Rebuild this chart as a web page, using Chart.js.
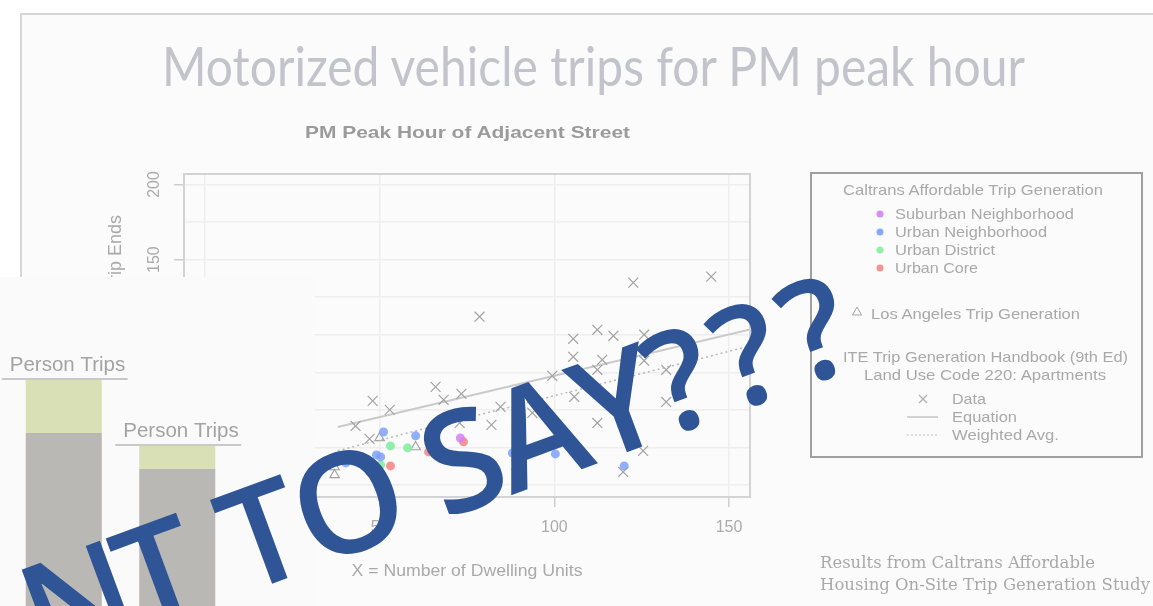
<!DOCTYPE html>
<html><head><meta charset="utf-8">
<script src="https://cdn.jsdelivr.net/npm/chart.js@4.4.1/dist/chart.umd.min.js"></script>
<style>
html,body{margin:0;padding:0;width:1153px;height:606px;overflow:hidden;background:#fff;}
#frame{position:absolute;left:20px;top:13px;width:1200px;height:700px;border:2px solid #d6d6d6;background:#fbfbfb;box-sizing:border-box;}
#main{position:absolute;left:0;top:0;width:1153px;height:606px;}
#txt{position:absolute;left:0;top:0;}
#ov{position:absolute;left:0;top:277px;width:315px;height:329px;background:#fafafa;overflow:hidden;}
#ovc{position:absolute;left:0;top:0;width:315px;height:400px;}
#blue{position:absolute;left:0;top:0;}
svg text{font-family:"Liberation Sans",Arial,sans-serif;fill:#a9a9a9;}
</style></head><body>
<div id="frame"></div>
<canvas id="main" width="1153" height="606"></canvas>
<svg id="txt" width="1153" height="606">
  <text x="162" y="86" font-family="Lato" font-size="54" textLength="863" lengthAdjust="spacingAndGlyphs" style="font-family:Lato;fill:#c3c3cb">Motorized vehicle trips for PM peak hour</text>
  <text x="305" y="138" font-size="17" font-weight="bold" textLength="325" lengthAdjust="spacingAndGlyphs" style="fill:#9b9b9b">PM Peak Hour of Adjacent Street</text>
  <text x="467" y="576" font-size="17" text-anchor="middle" textLength="231" lengthAdjust="spacingAndGlyphs">X = Number of Dwelling Units</text>
  <text x="121" y="215" font-size="18" text-anchor="end" transform="rotate(-90 121 215)">T = Average Vehicle Trip Ends</text>
  <rect x="811" y="173" width="331" height="284" fill="none" stroke="#a0a0a0" stroke-width="2"/>
  <text x="843" y="195" font-size="15" textLength="260" lengthAdjust="spacingAndGlyphs">Caltrans Affordable Trip Generation</text>
  <circle cx="880" cy="214" r="3.5" fill="#d98cf6"/>
  <circle cx="880" cy="232" r="3.5" fill="#88a9f8"/>
  <circle cx="880" cy="250" r="3.5" fill="#90f0a8"/>
  <circle cx="880" cy="268" r="3.5" fill="#f69393"/>
  <text x="895" y="219" font-size="15" textLength="179" lengthAdjust="spacingAndGlyphs">Suburban Neighborhood</text>
  <text x="895" y="237" font-size="15" textLength="152" lengthAdjust="spacingAndGlyphs">Urban Neighborhood</text>
  <text x="895" y="255" font-size="15" textLength="100" lengthAdjust="spacingAndGlyphs">Urban District</text>
  <text x="895" y="273" font-size="15" textLength="83" lengthAdjust="spacingAndGlyphs">Urban Core</text>
  <polygon points="857,307 861.5,315 852.5,315" fill="none" stroke="#a5a5a5" stroke-width="1"/>
  <text x="871" y="319" font-size="15" textLength="209" lengthAdjust="spacingAndGlyphs">Los Angeles Trip Generation</text>
  <text x="843" y="362" font-size="15" textLength="285" lengthAdjust="spacingAndGlyphs">ITE Trip Generation Handbook (9th Ed)</text>
  <text x="864" y="380" font-size="15" textLength="242" lengthAdjust="spacingAndGlyphs">Land Use Code 220: Apartments</text>
  <path d="M919 395 L927 403 M927 395 L919 403" stroke="#b0b0b0" stroke-width="1.2"/>
  <text x="952" y="404" font-size="15" textLength="34" lengthAdjust="spacingAndGlyphs">Data</text>
  <line x1="907" y1="417" x2="938" y2="417" stroke="#c5c5c5" stroke-width="1.5"/>
  <text x="952" y="422" font-size="15" textLength="65" lengthAdjust="spacingAndGlyphs">Equation</text>
  <line x1="907" y1="435" x2="938" y2="435" stroke="#c0c0c0" stroke-width="1.2" stroke-dasharray="2,2"/>
  <text x="952" y="440" font-size="15" textLength="107" lengthAdjust="spacingAndGlyphs">Weighted Avg.</text>
  <text x="820" y="568" font-size="17" textLength="275" lengthAdjust="spacingAndGlyphs" style="font-family:'DejaVu Serif',serif">Results from Caltrans Affordable</text>
  <text x="820" y="590" font-size="17" textLength="330" lengthAdjust="spacingAndGlyphs" style="font-family:'DejaVu Serif',serif">Housing On-Site Trip Generation Study</text>
</svg>
<div id="ov"><canvas id="ovc" width="315" height="400"></canvas></div>
<svg id="blue" width="1153" height="606">
  <text id="bigText" y="668" font-size="140" font-weight="600" transform="rotate(-20.3 44 668)" style="font-family:'Open Sans',sans-serif;fill:#2f5597">NT TO SAY???</text>
</svg>
<script>
// ---- Scatter data (PM Peak Hour of Adjacent Street) ----
const iteX = [78.6,122.6,144.9,105.4,112.3,116.9,125.7,105.4,113.7,125.7,112.3,132,99.4,105.7,132,112.3,125.4,119.7,89.1,93.7,84.6,73.4,66,68.3,48,52.9,43.1,72.9,82,47.1];
const iteY = [112,134.7,138.7,97.3,103.3,99.3,100,85.3,83.3,82.7,76.7,76.7,72.7,58.7,55.3,41.3,22.7,8.7,13.3,48,52,60.7,65.3,56.7,56,50,39.3,41.3,40,30.7];
const suburbanX = [73.1,121.4];
const suburbanY = [31.3,89.3];
const urbanNbhdX = [51.1,60.3,49.1,50.3,40.3,70.9,88,100.3,120.3,120];
const urbanNbhdY = [35.3,32.7,20,18.7,14.7,15.3,21.3,20.7,66.7,12.7];
const urbanDistX = [53.1,58,50.3];
const urbanDistY = [26,24.7,13.3];
const urbanCoreX = [53.1,64,65.7,74,100.3];
const urbanCoreY = [12.7,22,20.7,28.7,30];
const laX = [50,60.3,37.1,37.1];
const laY = [31.3,25.3,12,6.7];
const equationX = [38,156];
const equationY = [38.6,103.5];
const weightedX = [38,156];
const weightedY = [22.8,92.5];
const xGrid = [0,50,100,150];
const xTickLabels = [50,100,150];
const yGrid = [0,25,50,75,100,125,150,175,200];
const yTickLabels = [0,50,100,150,200];
// ---- Overlay bar data ----
const barCats = ['A','B'];
const vehicleTrips = [244,208];
const otherPersonTrips = [53,23];

// place the big banner glyphs with Calibri-like advances (em units)
(function(){
  const el = document.getElementById('bigText');
  const txt = el.textContent;
  const adv = {'N':0.646,'T':0.487,' ':0.226,'O':0.662,'S':0.459,'A':0.579,'Y':0.487,'?':0.463};
  const em = 156; let x = 44; const xs = [];
  for (const ch of txt){ xs.push(x.toFixed(1)); x += (adv[ch]||0.5)*em; }
  el.setAttribute('x', xs.join(' '));
})();

const pts = (xs, ys) => xs.map((x,i)=>({x, y: ys[i]}));

const boxPlugin = {
  id:'box',
  afterDraw(chart){
    const {ctx, chartArea:a, scales:{x,y}} = chart;
    ctx.save();
    ctx.strokeStyle='#d3d3d3'; ctx.lineWidth=2;
    ctx.strokeRect(a.left,a.top,a.right-a.left,a.bottom-a.top);
    ctx.fillStyle='#ababab';
    ctx.font='16px "Liberation Sans", Arial, sans-serif';
    ctx.textAlign='center'; ctx.textBaseline='middle';
    xTickLabels.forEach(v=>ctx.fillText(String(v), x.getPixelForValue(v), a.bottom+31));
    yTickLabels.forEach(v=>{
      ctx.save(); ctx.translate(a.left-29, y.getPixelForValue(v)); ctx.rotate(-Math.PI/2);
      ctx.fillText(String(v),0,0); ctx.restore();
    });
    ctx.restore();
  }
};

new Chart(document.getElementById('main'), {
  type:'scatter',
  data:{datasets:[
    {label:'Suburban Neighborhood', data:pts(suburbanX,suburbanY), backgroundColor:'rgba(212,128,246,0.85)', pointRadius:4.5, pointBorderWidth:0, order:1},
    {label:'Urban Neighborhood', data:pts(urbanNbhdX,urbanNbhdY), backgroundColor:'rgba(124,160,248,0.85)', pointRadius:4.5, pointBorderWidth:0, order:2},
    {label:'Urban District', data:pts(urbanDistX,urbanDistY), backgroundColor:'rgba(132,238,160,0.9)', pointRadius:4.5, pointBorderWidth:0, order:3},
    {label:'Urban Core', data:pts(urbanCoreX,urbanCoreY), backgroundColor:'rgba(246,136,136,0.9)', pointRadius:4.5, pointBorderWidth:0, order:4},
    {label:'Los Angeles Trip Generation', data:pts(laX,laY), pointStyle:'triangle', pointRadius:5.5, backgroundColor:'rgba(0,0,0,0)', borderColor:'#a0a0a0', pointBorderWidth:1.1, order:5},
    {label:'Data', data:pts(iteX,iteY), pointStyle:'crossRot', pointRadius:7, borderColor:'#a2a2a2', pointBorderWidth:1.2, order:6},
    {label:'Equation', data:pts(equationX,equationY), showLine:true, pointRadius:0, borderColor:'#cacaca', borderWidth:2, order:7},
    {label:'Weighted Avg.', data:pts(weightedX,weightedY), showLine:true, pointRadius:0, borderColor:'#b9b9b9', borderWidth:1.5, borderDash:[2,3], order:8}
  ]},
  options:{
    responsive:false, animation:false, devicePixelRatio:1,
    layout:{padding:{left:174, top:174, right:403, bottom:99}},
    plugins:{legend:{display:false}, tooltip:{enabled:false}},
    scales:{
      x:{type:'linear', min:-6, max:156,
        afterBuildTicks:s=>{s.ticks = xGrid.map(v=>({value:v}));},
        ticks:{display:false},
        grid:{color:'#eeeeee', lineWidth:1.5, tickLength:10, tickWidth:1.5,
          tickColor:ctx=>xTickLabels.includes(ctx.tick.value)?'#cfcfcf':'rgba(0,0,0,0)'},
        border:{display:false}},
      y:{type:'linear', min:-8, max:207,
        afterBuildTicks:s=>{s.ticks = yGrid.map(v=>({value:v}));},
        ticks:{display:false},
        grid:{color:'#eeeeee', lineWidth:1.5, tickLength:10, tickWidth:1.5,
          tickColor:ctx=>yTickLabels.includes(ctx.tick.value)?'#cfcfcf':'rgba(0,0,0,0)'},
        border:{display:false}}
    }
  },
  plugins:[boxPlugin]
});

const personTripsPlugin = {
  id:'personTrips',
  afterDatasetsDraw(chart){
    const ctx = chart.ctx;
    const meta = chart.getDatasetMeta(chart.data.datasets.length-1);
    ctx.save();
    meta.data.forEach(el=>{
      const left = el.x - el.width/2;
      ctx.strokeStyle='#c9c9c9'; ctx.lineWidth=2;
      ctx.beginPath(); ctx.moveTo(left-24, el.y-1); ctx.lineTo(left+102, el.y-1); ctx.stroke();
      ctx.fillStyle='#a3a3a3';
      ctx.font='20.5px "Liberation Sans", Arial, sans-serif';
      ctx.textAlign='left'; ctx.textBaseline='alphabetic';
      ctx.fillText('Person Trips', left-16, el.y-9);
    });
    ctx.restore();
  }
};

new Chart(document.getElementById('ovc'), {
  type:'bar',
  data:{labels:barCats, datasets:[
    {label:'Vehicle Trips', data:vehicleTrips, backgroundColor:'#b9b8b4', stack:'s'},
    {label:'Person Trips', data:otherPersonTrips, backgroundColor:'#d9e0b6', stack:'s'}
  ]},
  options:{
    responsive:false, animation:false, devicePixelRatio:1,
    layout:{padding:{left:7, right:81, top:0, bottom:0}},
    plugins:{legend:{display:false}, tooltip:{enabled:false}},
    datasets:{bar:{categoryPercentage:1, barPercentage:0.67}},
    scales:{x:{display:false, stacked:true}, y:{display:false, stacked:true, min:0, max:400}}
  },
  plugins:[personTripsPlugin]
});
</script>
</body></html>
